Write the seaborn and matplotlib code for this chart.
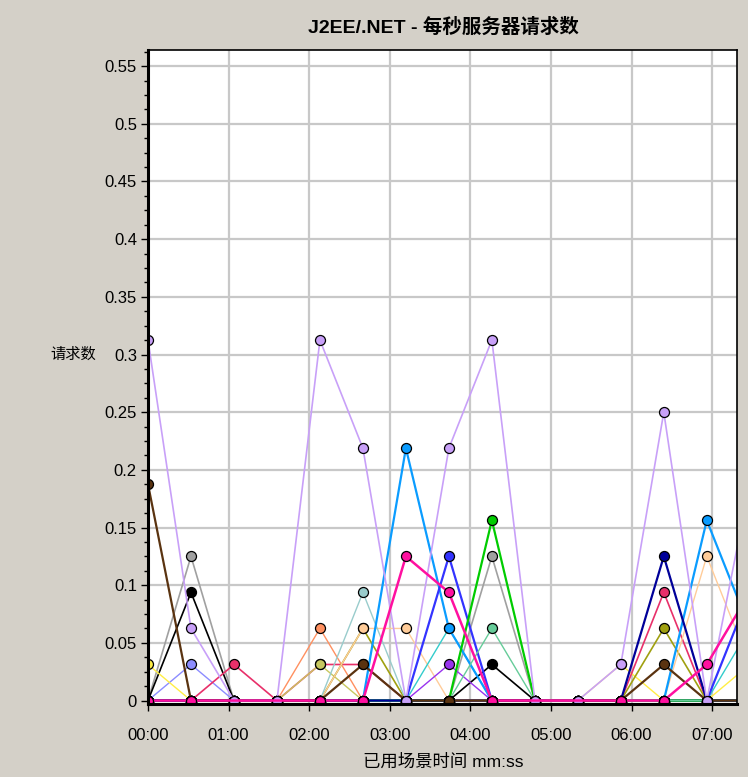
import numpy as np
import pandas as pd
import matplotlib
matplotlib.use('Agg')
import matplotlib.pyplot as plt
from matplotlib.ticker import MultipleLocator, FuncFormatter
import seaborn as sns

# ======================================================
# DATA  (one sample every 32 s, values are requests/sec)
# ======================================================
nan = np.nan
times = [0, 32, 64, 96, 128, 160, 192, 224, 256, 288, 320, 352, 384, 416, 448]

gray_req      = [0, 0.125, 0, 0, 0, 0, 0, 0, 0.125, 0, 0, 0, 0, 0, 0]
black_req     = [0, 0.09375, 0, 0, 0, 0, 0, 0, 0.03125, 0, 0, 0, 0, 0, 0]
periwinkle_req = [0, 0.03125, 0, 0, 0, 0, 0, 0, 0, 0, 0, 0, 0, 0, 0]
yellow_req    = [0.03125, 0, 0, 0, 0, 0, 0, 0, 0, 0, 0, 0.03125, 0, 0, 0.03125]
crimson_req   = [0, 0, 0.03125, 0, 0.03125, 0.03125, 0, 0, 0, 0, 0, 0, 0.09375, 0, 0]
orange_req    = [0, 0, 0, 0, 0.0625, 0, 0, 0, 0, 0, 0, 0, 0, 0, 0]
khaki_req     = [0, 0, 0, 0, 0.03125, 0, 0, 0, 0, 0, 0, 0, 0, 0, 0]
olive_req     = [0, 0, 0, 0, 0, 0.0625, 0, 0, 0, 0, 0, 0, 0.0625, 0, 0]
peach_req     = [0, 0, 0, 0, 0, 0.0625, 0.0625, 0, 0, 0, 0, 0, 0, 0.125, 0.03125]
lightteal_req = [0, 0, 0, 0, 0, 0.09375, 0, 0, 0, 0, 0, 0, 0, 0, 0]
turquoise_req = [0, 0, 0, 0, 0, 0, 0, 0.0625, 0, 0, 0, 0, 0, 0, 0.0625]
skyblue_req   = [0, 0, 0, 0, 0, 0, 0.21875, 0.0625, 0, 0, 0, 0, 0, 0.15625, 0.0625]
blue_req      = [0, 0, 0, 0, 0, 0, 0, 0.125, 0, 0, 0, 0, 0, 0, 0.09375]
purple_req    = [0, 0, 0, 0, 0, 0, 0, 0.03125, 0, 0, 0, 0, 0, 0, 0]
green_req     = [0, 0, 0, 0, 0, 0, 0, 0, 0.15625, 0, 0, 0, 0, 0, 0]
seafoam_req   = [0, 0, 0, 0, 0, 0, 0, 0, 0.0625, 0, 0, 0, 0, 0, 0]
navy_req      = [0, 0, 0, 0, 0, 0, 0, 0, 0, 0, 0, 0, 0.125, 0, 0]
brown_req     = [0.1875, 0, 0, 0, 0, 0.03125, 0, 0, 0, 0, 0, 0, 0.03125, 0, 0]
lavender_req  = [0.3125, 0.0625, 0, 0, 0.3125, 0.21875, 0, 0.21875, 0.3125, 0, 0, 0.03125, 0.25, 0, 0.1875]
magenta_req   = [0, 0, nan, nan, 0, 0, 0.125, 0.09375, 0, nan, nan, 0, 0, 0.03125, 0.09375]

y_ticks = [0, 0.05, 0.1, 0.15, 0.2, 0.25, 0.3, 0.35, 0.4, 0.45, 0.5, 0.55]

# drawing order = z-order (last one ends up on top)
series = [
    ('gray', gray_req, '#a0a0a0', 1.2),
    ('black', black_req, '#000000', 1.2),
    ('periwinkle', periwinkle_req, '#8c8cff', 1.0),
    ('yellow', yellow_req, '#ffee44', 1.0),
    ('crimson', crimson_req, '#e8306a', 1.2),
    ('orange', orange_req, '#ff9060', 1.0),
    ('khaki', khaki_req, '#c8c860', 1.0),
    ('olive', olive_req, '#a0a010', 1.2),
    ('peach', peach_req, '#ffcc99', 1.0),
    ('lightteal', lightteal_req, '#99cccc', 1.0),
    ('turquoise', turquoise_req, '#33cccc', 1.0),
    ('skyblue', skyblue_req, '#0a9cff', 1.6),
    ('blue', blue_req, '#3333ff', 1.6),
    ('purple', purple_req, '#9933ee', 1.0),
    ('green', green_req, '#00cc00', 1.6),
    ('seafoam', seafoam_req, '#66cc99', 1.0),
    ('navy', navy_req, '#000099', 1.6),
    ('brown', brown_req, '#5a3310', 1.6),
    ('lavender', lavender_req, '#c8a0f8', 1.2),
    ('magenta', magenta_req, '#ff10a0', 1.8),
]

rows = []
for name, vals, color, lw in series:
    for t, v in zip(times, vals):
        rows.append({'series': name, 'sec': t, 'requests': v})
df = pd.DataFrame(rows).dropna()

# ======================================================
# PLOT
# ======================================================
bg = '#d4d0c8'
sns.set_style('white')
plt.rcParams['font.family'] = ['Liberation Sans', 'Noto Sans CJK SC']
plt.rcParams['text.color'] = 'black'

fig = plt.figure(figsize=(7.48, 7.77), dpi=100, facecolor=bg)
ax = fig.add_axes([148 / 748, 73 / 777, (737 - 148) / 748, (727 - 73) / 777])
ax.set_facecolor('white')

for name, vals, color, lw in series:
    sns.lineplot(
        data=df[df['series'] == name],
        x='sec',
        y='requests',
        color=color,
        linewidth=lw,
        marker='o',
        markersize=7.2,
        markeredgecolor='black',
        markeredgewidth=0.9,
        estimator=None,
        sort=False,
        legend=False,
        ax=ax
    )

ax.set_xlim(0, 438.5)
ax.set_ylim(-0.003, 0.564)

ax.xaxis.set_major_locator(MultipleLocator(60))
ax.xaxis.set_major_formatter(FuncFormatter(lambda s, p: f'{int(s) // 60:02d}:{int(s) % 60:02d}'))
ax.set_yticks(y_ticks)
ax.yaxis.set_major_formatter(FuncFormatter(lambda v, p: f'{v:g}'))
ax.yaxis.set_minor_locator(MultipleLocator(0.0125))

ax.grid(True, which='major', color='#c8c8c8', linewidth=1.6)
ax.set_axisbelow(True)

ax.tick_params(axis='both', which='major', direction='out', length=5, width=1,
               color='black', labelsize=12, labelcolor='black', pad=3)
ax.tick_params(axis='y', which='minor', direction='out', length=3, width=1, color='black', left=True)
ax.tick_params(axis='x', which='major', pad=12, bottom=True)
ax.tick_params(axis='y', which='major', left=True)

for side in ['left', 'bottom']:
    ax.spines[side].set_color('black')
    ax.spines[side].set_linewidth(2.2)
for side in ['top', 'right']:
    ax.spines[side].set_color('black')
    ax.spines[side].set_linewidth(1.2)

ax.set_xlabel('')
ax.set_ylabel('')

fig.text(443 / 748, 1 - 27 / 777, 'J2EE/.NET - 每秒服务器请求数',
         ha='center', va='center', fontsize=14, fontweight='bold', color='black')
fig.text(443 / 748, 1 - 762 / 777, '已用场景时间 mm:ss',
         ha='center', va='center', fontsize=12.5, color='black')
fig.text(73 / 748, 1 - 355 / 777, '请求数',
         ha='center', va='center', fontsize=11, color='black')

fig.savefig('out.png', dpi=100, facecolor=bg)
plt.close()
